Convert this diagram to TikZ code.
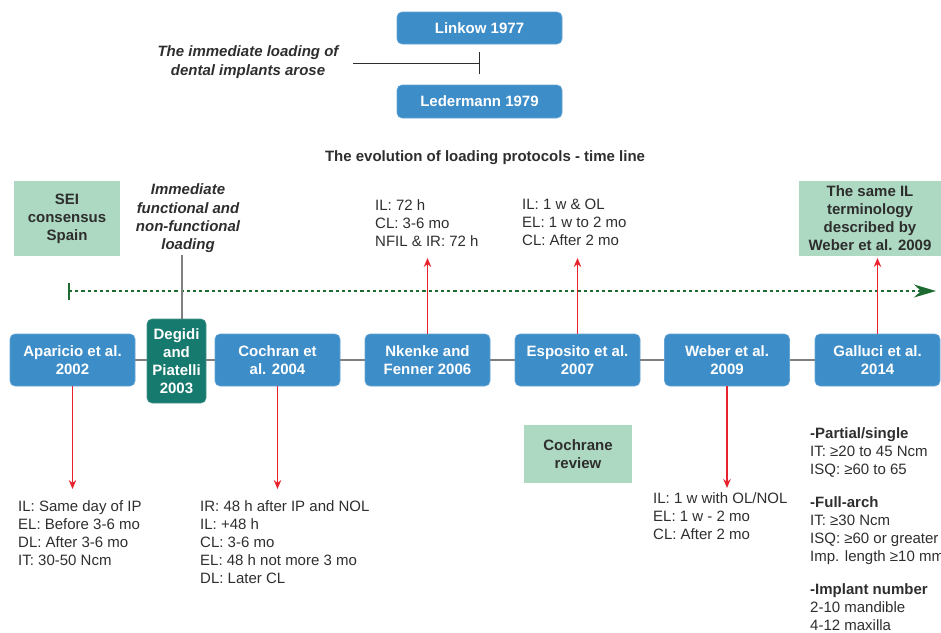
\documentclass[tikz,border=0pt]{standalone}
\usepackage{fontspec}
\setmainfont{Liberation Sans}
\usetikzlibrary{arrows.meta,calc}
\definecolor{boxblue}{HTML}{3D8DC9}
\definecolor{boxgreen}{HTML}{ADD9C2}
\definecolor{boxteal}{HTML}{177A6E}
\definecolor{arrred}{HTML}{E8232D}
\definecolor{dotgreen}{HTML}{1E6B32}
\definecolor{txt}{HTML}{2E2E2E}
\definecolor{linegray}{HTML}{7F7F7F}
\tikzset{
  bluebox/.style={fill=boxblue, draw=boxblue!80!white, line width=0.6pt, rounded corners=5pt, text=white, font=\fontsize{15}{18}\selectfont\bfseries, align=center, minimum width=125pt, minimum height=52pt, inner sep=0pt},
  greenbox/.style={fill=boxgreen, text=txt, font=\fontsize{15}{18}\selectfont\bfseries, align=center, inner sep=0pt},
  tealbox/.style={fill=boxteal, draw=boxteal!80!white, line width=0.6pt, rounded corners=5pt, text=white, font=\fontsize{15}{18}\selectfont\bfseries, align=center, minimum width=59pt, minimum height=84pt, inner sep=0pt},
  desc/.style={text=txt, font=\fontsize{15}{18}\selectfont, align=left, anchor=north west, inner sep=0pt},
  itlabel/.style={text=txt, font=\fontsize{15}{18.3}\selectfont\bfseries\itshape, align=center, inner sep=0pt},
  redarrow/.style={draw=arrred, line width=1.3pt, -{Stealth[length=9pt,width=7.5pt]}},
  grayline/.style={draw=linegray, line width=1.3pt},
  thinline/.style={draw=txt, line width=0.8pt},
}
\begin{document}
\begin{tikzpicture}[x=1pt,y=-1pt]
\useasboundingbox (0,0) rectangle (941,632);

% top part
\node[bluebox, minimum width=165pt, minimum height=32pt] (linkow) at (479.5,28) {Linkow 1977};
\node[bluebox, minimum width=165pt, minimum height=33pt] (leder) at (479.5,101.5) {Ledermann 1979};
\node[itlabel] (arose) at (248,62) {The immediate loading of\\dental implants arose};
\coordinate (bar) at (479,63);
\coordinate (bartop) at (479,52);
\coordinate (barbot) at (479,74);
\coordinate (barstart) at (353,63);
\draw[thinline] (barstart) -- (bar);
\draw[thinline] (bartop) -- (barbot);

\node[text=txt, font=\fontsize{15}{18}\selectfont\bfseries, inner sep=0pt] (title) at (485,158) {The evolution of loading protocols - time line};

% upper boxes
\node[greenbox, minimum width=106pt, minimum height=75pt] (sei) at (67,218.5) {SEI\\consensus\\Spain};
\node[itlabel] (imm) at (188,218.5) {Immediate\\functional and\\non-functional\\loading};
\node[greenbox, minimum width=142pt, minimum height=75pt] (same) at (870,218.5) {The same IL\\terminology\\described by\\Weber et al. 2009};

% dotted timeline
\coordinate (dstart) at (69,291);
\coordinate (dend) at (936,291);
\coordinate (dtickA) at (69,283);
\coordinate (dtickB) at (69,300);
\draw[draw=dotgreen, line width=1.6pt, dash pattern=on 3.2pt off 3pt, -{Stealth[length=22pt,width=13pt,inset=7pt]}] (dstart) -- (dend);
\draw[draw=dotgreen, line width=1.8pt] (dtickA) -- (dtickB);

% main timeline boxes
\node[bluebox] (apa) at (72.5,360) {Aparicio et al.\\2002};
\node[tealbox] (deg) at (176.5,361) {Degidi\\and\\Piatelli\\2003};
\node[bluebox] (coc) at (277.5,360) {Cochran et\\al. 2004};
\node[bluebox] (nke) at (427.5,360) {Nkenke and\\Fenner 2006};
\node[bluebox] (esp) at (577.5,360) {Esposito et al.\\2007};
\node[bluebox] (web) at (727,360) {Weber et al.\\2009};
\node[bluebox] (gal) at (877.5,360) {Galluci et al.\\2014};

% gray connectors between boxes
\draw[grayline] (apa.east) -- (deg.west |- apa.east);
\draw[grayline] (deg.east |- coc.west) -- (coc.west);
\draw[grayline] (coc.east) -- (nke.west);
\draw[grayline] (nke.east) -- (esp.west);
\draw[grayline] (esp.east) -- (web.west);
\draw[grayline] (web.east) -- (gal.west);
\coordinate (immfoot) at (182,255);
\coordinate (degtop) at (182,319);
\draw[draw=linegray, line width=1.2pt] (immfoot) -- (degtop);

% descriptions
\node[desc] (apad) at (18,500) {IL: Same day of IP\\EL: Before 3-6 mo\\DL: After 3-6 mo\\IT: 30-50 Ncm};
\node[desc] (cocd) at (200,500) {IR: 48 h after IP and NOL\\IL: +48 h\\CL: 3-6 mo\\EL: 48 h not more 3 mo\\DL: Later CL};
\node[desc] (nked) at (375,199) {IL: 72 h\\CL: 3-6 mo\\NFIL \& IR: 72 h};
\node[desc] (espd) at (522,199) {IL: 1 w \& OL\\EL: 1 w to 2 mo\\CL: After 2 mo};
\node[desc] (webd) at (653,492) {IL: 1 w with OL/NOL\\EL: 1 w - 2 mo\\CL: After 2 mo};
\node[desc] (gald) at (810,427) {\textbf{-Partial/single}\\IT: ≥20 to 45 Ncm\\ISQ: ≥60 to 65\\[15pt]\textbf{-Full-arch}\\IT: ≥30 Ncm\\ISQ: ≥60 or greater\\Imp. length ≥10 mm\\[15pt]\textbf{-Implant number}\\2-10 mandible\\4-12 maxilla};

\node[greenbox, minimum width=108pt, minimum height=58pt] (cochrane) at (578,454) {Cochrane\\review};

% red arrows
\coordinate (apaend) at (72.5,489);
\coordinate (cocend) at (277.5,489);
\coordinate (webend) at (727,488);
\coordinate (nkeend) at (427.5,258);
\coordinate (espend) at (577.5,258);
\coordinate (galend) at (877.5,258);
\draw[redarrow] (apa.south) -- (apaend);
\draw[redarrow] (coc.south) -- (cocend);
\draw[redarrow] (web.south) -- (webend);
\draw[redarrow] (nke.north) -- (nkeend);
\draw[redarrow] (esp.north) -- (espend);
\draw[redarrow] (gal.north) -- (galend);
\end{tikzpicture}
\end{document}
